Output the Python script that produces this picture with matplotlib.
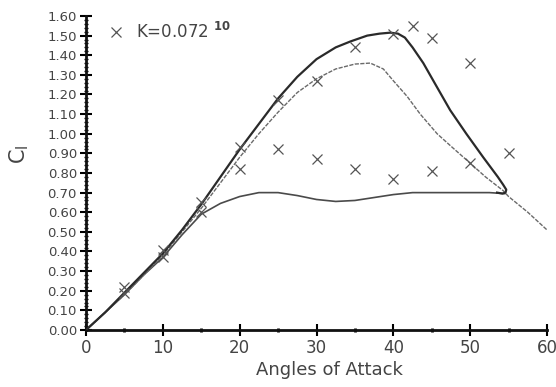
import matplotlib
matplotlib.use("Agg")
import matplotlib.pyplot as plt
from matplotlib.ticker import MultipleLocator, FormatStrFormatter

# ---- data ----
upper_x = [0, 2.5, 5, 7.5, 10, 12.5, 15, 17.5, 20, 22.5, 25, 27.5, 30, 32.5, 34.4, 36.6, 38.2,
           39.6, 40.6, 41.5, 42.5, 43.9, 45.5, 47.4, 49.5, 51.7, 53.6, 54.3, 54.7, 54.6, 54.2, 53.5]
upper_y = [0, 0.09, 0.19, 0.29, 0.39, 0.51, 0.64, 0.78, 0.92, 1.05, 1.18, 1.29, 1.38, 1.44, 1.47, 1.50, 1.51,
           1.515, 1.51, 1.49, 1.44, 1.36, 1.25, 1.12, 1.00, 0.88, 0.78, 0.74, 0.715, 0.70, 0.695, 0.70]

middle_x = [0, 2.5, 5, 7.5, 10, 12.5, 15, 17.5, 20, 22.5, 25, 27.5, 30, 32.5, 35, 37, 38.7,
            40, 41.8, 43.5, 45.7, 47.4, 50, 52, 54.3, 55, 57.5, 60]
middle_y = [0, 0.09, 0.18, 0.28, 0.38, 0.50, 0.62, 0.75, 0.88, 1.00, 1.11, 1.21, 1.28, 1.33, 1.355, 1.36, 1.33,
            1.27, 1.19, 1.10, 1.00, 0.94, 0.85, 0.78, 0.71, 0.68, 0.60, 0.51]

lower_x = [0, 2.5, 5, 7.5, 10, 12.5, 15, 17.5, 20, 22.5, 25, 27.5, 30, 32.5, 35, 37.5,
           40, 42.5, 45, 47.5, 50, 52.5, 54.5]
lower_y = [0, 0.09, 0.18, 0.28, 0.37, 0.485, 0.59, 0.645, 0.68, 0.70, 0.70, 0.685, 0.665, 0.655, 0.66, 0.675,
           0.69, 0.70, 0.70, 0.70, 0.70, 0.70, 0.695]

exp_x = [5, 5, 10, 10, 15, 15, 20, 20, 25, 25, 30, 30, 35, 35, 40, 40, 42.5, 45, 45, 50, 50, 55]
exp_y = [0.22, 0.19, 0.41, 0.37, 0.65, 0.60, 0.93, 0.82, 1.17, 0.92, 1.27, 0.87, 1.44, 0.82,
         1.51, 0.77, 1.55, 1.49, 0.81, 1.36, 0.85, 0.90]

legend_label = r'K=0.072 $^{\mathbf{10}}$'
x_label = 'Angles of Attack'
y_label = r'$\mathregular{C_{l}}$'

text_col = '#444444'

fig = plt.figure(figsize=(5.56, 3.87), dpi=100)
ax = fig.add_axes([0.1547, 0.1473, 0.8291, 0.8114])

ax.plot(lower_x, lower_y, color='#4a4a4a', lw=1.2, zorder=2)
ax.plot(middle_x, middle_y, color='#6a6a6a', lw=1.0, ls=(0, (3, 1)), zorder=2)
ax.plot(upper_x, upper_y, color='#2a2a2a', lw=1.6, zorder=3)
ax.plot(exp_x, exp_y, ls='none', marker='x', ms=7, mew=0.9, color='#555555',
        label=legend_label, zorder=4)

ax.set_xlim(0, 60)
ax.set_ylim(0, 1.6)

ax.xaxis.set_major_locator(MultipleLocator(10))
ax.xaxis.set_minor_locator(MultipleLocator(5))
ax.yaxis.set_major_locator(MultipleLocator(0.1))
ax.yaxis.set_minor_locator(MultipleLocator(0.02))
ax.yaxis.set_major_formatter(FormatStrFormatter('%.2f'))

for s in ['top', 'right']:
    ax.spines[s].set_visible(False)
for s in ['left', 'bottom']:
    ax.spines[s].set_linewidth(2.0)
    ax.spines[s].set_color('#111111')

ax.tick_params(axis='y', which='major', direction='inout', length=9, width=1.5,
               labelsize=9.5, labelcolor=text_col, pad=2)
ax.tick_params(axis='y', which='minor', direction='inout', length=3.5, width=1.0)
ax.tick_params(axis='x', which='major', direction='inout', length=9, width=1.5,
               labelsize=12, labelcolor=text_col, pad=2)
ax.tick_params(axis='x', which='minor', direction='inout', length=3, width=2.0)

ax.set_xlabel(x_label, fontsize=13, color=text_col)
ax.xaxis.set_label_coords(0.527, -0.10)
ax.set_ylabel(y_label, fontsize=15, color=text_col)
ax.yaxis.set_label_coords(-0.12, 0.56)

leg = ax.legend(loc='upper left', bbox_to_anchor=(0.015, 1.03), frameon=False,
                handlelength=1.0, handletextpad=0.7, fontsize=12)
for t in leg.get_texts():
    t.set_color(text_col)

fig.savefig('out.png', dpi=100, facecolor='white')
